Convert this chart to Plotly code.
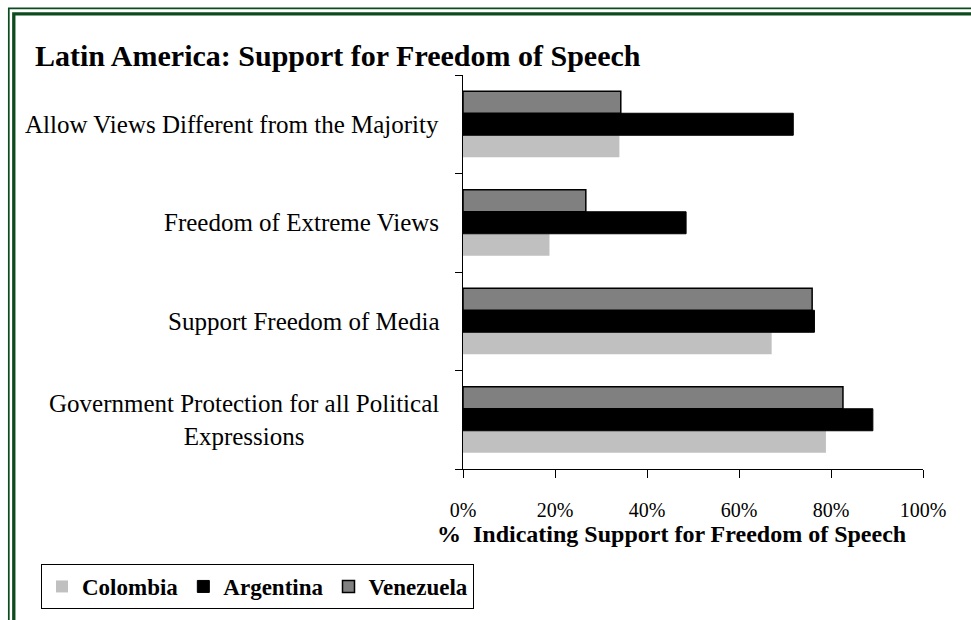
import plotly.graph_objects as go

categories = [
    "Government Protection for all Political<br>Expressions",
    "Support Freedom of Media",
    "Freedom of Extreme Views",
    "Allow Views Different from the Majority",
]
colombia = [78.9, 67.1, 18.8, 34.0]
argentina = [89.1, 76.4, 48.5, 71.8]
venezuela = [82.6, 75.9, 26.7, 34.3]
x_ticks = [0, 20, 40, 60, 80, 100]
x_tick_labels = ["0%", "20%", "40%", "60%", "80%", "100%"]

W, H = 971, 620
L, R, T, B = 463, 48, 75, 150
PW, PH = W - L - R, H - T - B


def px(x):
    return (x - L) / PW


def py(y):
    return (H - B - y) / PH


SERIF = "Liberation Serif, Times New Roman, serif"
GREEN = "#0c4b1c"

fig = go.Figure()
fig.add_trace(go.Bar(y=categories, x=colombia, name="Colombia", orientation="h",
                     marker=dict(color="#c0c0c0", line=dict(width=0))))
fig.add_trace(go.Bar(y=categories, x=argentina, name="Argentina", orientation="h",
                     marker=dict(color="#000000", line=dict(color="#000000", width=1))))
fig.add_trace(go.Bar(y=categories, x=venezuela, name="Venezuela", orientation="h",
                     marker=dict(color="#808080", line=dict(color="#000000", width=1.5))))

fig.update_layout(
    width=W, height=H,
    margin=dict(l=L, r=R, t=T, b=B),
    paper_bgcolor="white", plot_bgcolor="white",
    barmode="group", bargap=0.33, bargroupgap=0,
    font=dict(family=SERIF, color="black"),
    showlegend=True,
    legend=dict(orientation="h", x=px(41), y=py(564), xanchor="left", yanchor="top",
                bordercolor="black", borderwidth=1, bgcolor="white",
                font=dict(family=SERIF, size=23, color="black", weight="bold"),
                itemwidth=30, traceorder="normal"),
    xaxis=dict(range=[0, 100], tickmode="array", tickvals=x_ticks, ticktext=x_tick_labels,
               showgrid=False, zeroline=False, showline=True, linecolor="black", linewidth=1,
               ticks="outside", ticklen=8, tickcolor="black",
               tickfont=dict(family=SERIF, size=20, color="black"),
               ticklabelstandoff=15, fixedrange=True),
    yaxis=dict(type="category", categoryorder="array", categoryarray=categories,
               showticklabels=False, showgrid=False, zeroline=False,
               showline=True, linecolor="black", linewidth=1,
               ticks="outside", ticklen=7, tickcolor="black", tickson="boundaries",
               fixedrange=True),
)

annotations = [
    dict(text="<b>Latin America: Support for Freedom of Speech</b>", xref="paper", yref="paper",
         x=px(33), y=py(55), xanchor="left", yanchor="middle", showarrow=False,
         font=dict(family=SERIF, size=30, color="black")),
    dict(text="<b>%  Indicating Support for Freedom of Speech</b>", xref="paper", yref="paper",
         x=px(671), y=py(535), xanchor="center", yanchor="middle", showarrow=False,
         font=dict(family=SERIF, size=24, color="black")),
]
for c in categories:
    annotations.append(dict(text=c, xref="paper", yref="y", x=px(441), y=c,
                            xanchor="right", yanchor="middle", align="center", showarrow=False,
                            font=dict(family=SERIF, size=25, color="black")))
fig.update_layout(annotations=annotations)

fig.add_shape(type="rect", xref="paper", yref="paper",
              x0=px(8.8), y0=py(8.3), x1=px(1010), y1=py(680),
              line=dict(color=GREEN, width=1.7), fillcolor="rgba(0,0,0,0)", layer="below")
fig.add_shape(type="rect", xref="paper", yref="paper",
              x0=px(13.8), y0=py(13.8), x1=px(1005), y1=py(675),
              line=dict(color=GREEN, width=3.3), fillcolor="rgba(0,0,0,0)", layer="below")

fig.write_html("out.html", config={"displayModeBar": False},
               post_script="document.body.style.margin='0';document.body.style.overflow='hidden';")
